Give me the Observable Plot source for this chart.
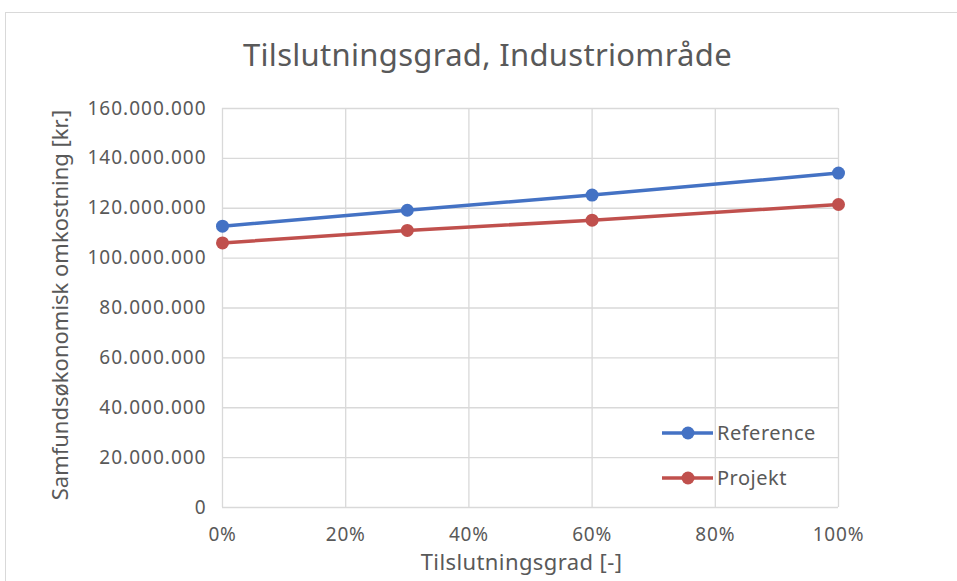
<!DOCTYPE html>
<html>
<head>
<meta charset="utf-8">
<script src="https://cdn.jsdelivr.net/npm/d3@7"></script>
<script src="https://cdn.jsdelivr.net/npm/@observablehq/plot@0.6"></script>
<style>
  html, body { margin: 0; padding: 0; background: #fff; }
  body { width: 957px; height: 581px; position: relative; overflow: hidden; font-family: "Noto Sans", sans-serif; }
  #frame { position: absolute; left: 5px; top: 12px; width: 960px; height: 580px; border: 1px solid #d9d9d9; box-sizing: border-box; }
  #title { position: absolute; left: 0; width: 975px; top: 34px; text-align: center; font-size: 31px; letter-spacing: 0.3px; color: #595959; line-height: 40px; }
  #chart { position: absolute; left: 0; top: 90px; }
  #legend { position: absolute; left: 0; top: 0; pointer-events: none; }
</style>
</head>
<body>
<div id="frame"></div>
<div id="title">Tilslutningsgrad, Industriområde</div>
<div id="chart"></div>
<script>
const xValues = [0, 30, 60, 100];
const referenceValues = [112.8e6, 119.2e6, 125.3e6, 134.1e6];
const projektValues = [106.1e6, 111.1e6, 115.2e6, 121.5e6];
const seriesNames = ["Reference", "Projekt"];
const seriesColors = ["#4472C4", "#C0504D"];
const xTicks = [0, 20, 40, 60, 80, 100];
const yTicks = [0, 20e6, 40e6, 60e6, 80e6, 100e6, 120e6, 140e6, 160e6];

const data = [];
xValues.forEach((x, i) => {
  data.push({series: seriesNames[0], x, y: referenceValues[i]});
  data.push({series: seriesNames[1], x, y: projektValues[i]});
});

const fmt = d3.formatLocale({decimal: ",", thousands: ".", grouping: [3], currency: ["", ""]}).format(",");
const grey = "#595959";

const chart = Plot.plot({
  width: 957,
  height: 491,
  marginTop: 18,
  marginBottom: 74,
  marginLeft: 222,
  marginRight: 119,
  style: {fontFamily: "Noto Sans, sans-serif", fontSize: "19px", color: grey, background: "transparent"},
  x: {domain: [0, 100]},
  y: {domain: [0, 160e6]},
  color: {domain: seriesNames, range: seriesColors},
  marks: [
    Plot.gridX(xTicks, {stroke: "#d9d9d9", strokeOpacity: 1, strokeWidth: 1.3}),
    Plot.gridY(yTicks, {stroke: "#d9d9d9", strokeOpacity: 1, strokeWidth: 1.3}),
    Plot.axisX(xTicks, {tickSize: 0, tickPadding: 20, tickFormat: d => d + "%", fontSize: 19, fill: grey,
      label: "Tilslutningsgrad [-]", labelAnchor: "center", labelOffset: 62, labelArrow: "none"}),
    Plot.axisY(yTicks, {tickSize: 0, tickPadding: 16, tickFormat: d => fmt(d), fontSize: 19, fill: grey,
      label: "Samfundsøkonomisk omkostning [kr.]", labelAnchor: "center", labelOffset: 170, labelArrow: "none"}),
    Plot.line(data, {x: "x", y: "y", stroke: "series", strokeWidth: 3.5}),
    Plot.dot(data, {x: "x", y: "y", fill: "series", r: 6.5})
  ]
});
document.getElementById("chart").appendChild(chart);
const svg = d3.select(chart);
svg.selectAll('g[aria-label="y-axis tick label"] text').attr("letter-spacing", "1px");
svg.selectAll('g[aria-label="x-axis tick label"] text').attr("letter-spacing", "0.8px");
svg.selectAll('g[aria-label="y-axis label"] text').attr("font-size", "22px").attr("dx", "3");
svg.selectAll('g[aria-label="x-axis label"] text').attr("font-size", "22px").attr("letter-spacing", "0.4px").attr("dx", "-9");

// Legend
const ns = "http://www.w3.org/2000/svg";
const leg = document.createElementNS(ns, "svg");
leg.setAttribute("id", "legend");
leg.setAttribute("width", 957);
leg.setAttribute("height", 581);
const rows = [433, 478];
seriesNames.forEach((name, i) => {
  const y = rows[i];
  const line = document.createElementNS(ns, "line");
  line.setAttribute("x1", 662); line.setAttribute("x2", 713);
  line.setAttribute("y1", y); line.setAttribute("y2", y);
  line.setAttribute("stroke", seriesColors[i]); line.setAttribute("stroke-width", 3.5);
  leg.appendChild(line);
  const c = document.createElementNS(ns, "circle");
  c.setAttribute("cx", 688); c.setAttribute("cy", y); c.setAttribute("r", 6.5);
  c.setAttribute("fill", seriesColors[i]);
  leg.appendChild(c);
  const t = document.createElementNS(ns, "text");
  t.setAttribute("x", 717); t.setAttribute("y", y);
  t.setAttribute("dy", "0.35em");
  t.setAttribute("font-size", 20);
  t.setAttribute("letter-spacing", "0.5px");
  t.setAttribute("font-family", "Noto Sans, sans-serif");
  t.setAttribute("fill", grey);
  t.textContent = name;
  leg.appendChild(t);
});
document.body.appendChild(leg);
</script>
</body>
</html>
